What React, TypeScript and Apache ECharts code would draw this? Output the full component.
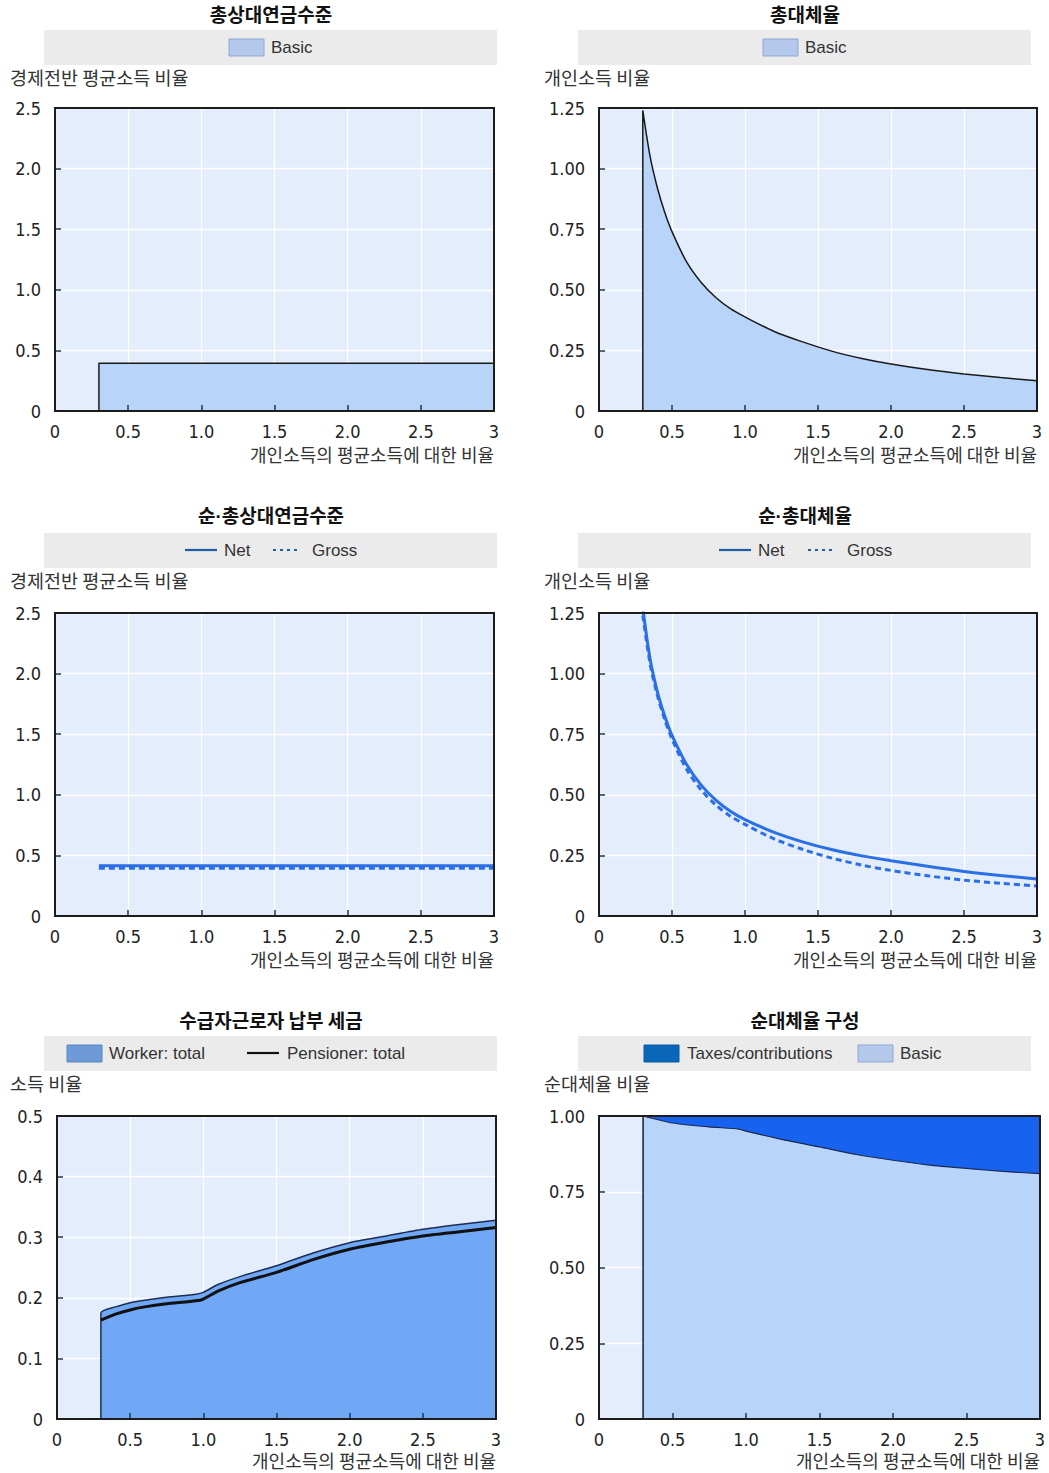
import React, { useEffect, useRef } from "react";
import * as echarts from "echarts";

// ---------- data ----------
const levelX = [0.3, 3.0];
const basicGrossLevel = [0.395, 0.395];
const netLevel = [0.415, 0.415];

const rrX = [0.3, 0.35, 0.4, 0.45, 0.5, 0.6, 0.7, 0.8, 0.9, 1.0, 1.2, 1.4, 1.6, 1.8, 2.0, 2.25, 2.5, 2.75, 3.0];
const grossRR = [1.24, 1.05, 0.92, 0.82, 0.74, 0.615, 0.53, 0.468, 0.422, 0.388, 0.328, 0.284, 0.246, 0.217, 0.194, 0.171, 0.153, 0.138, 0.125];
const grossRRNetPanel = [1.24, 1.04, 0.91, 0.81, 0.73, 0.605, 0.52, 0.458, 0.412, 0.378, 0.318, 0.274, 0.238, 0.21, 0.188, 0.166, 0.148, 0.135, 0.124];
const netRR = [1.27, 1.06, 0.925, 0.825, 0.745, 0.625, 0.54, 0.478, 0.432, 0.398, 0.345, 0.305, 0.273, 0.248, 0.228, 0.205, 0.184, 0.167, 0.153];

const taxX = [0.3, 0.4, 0.5, 0.6, 0.75, 0.95, 1.0, 1.1, 1.25, 1.5, 1.75, 2.0, 2.25, 2.5, 2.75, 3.0];
const workerTax = [0.175, 0.185, 0.192, 0.196, 0.201, 0.206, 0.209, 0.222, 0.235, 0.253, 0.274, 0.291, 0.302, 0.313, 0.321, 0.328];
const pensionerTax = [0.163, 0.173, 0.18, 0.185, 0.19, 0.195, 0.198, 0.211, 0.225, 0.242, 0.263, 0.28, 0.292, 0.302, 0.309, 0.316];

const compX = [0.3, 0.5, 0.75, 0.95, 1.0, 1.25, 1.5, 1.75, 2.0, 2.25, 2.5, 2.75, 3.0];
const basicShare = [1.0, 0.977, 0.964, 0.957, 0.95, 0.922, 0.898, 0.873, 0.854, 0.838, 0.827, 0.817, 0.81];
const taxShare = [0, 0.023, 0.036, 0.043, 0.05, 0.078, 0.102, 0.127, 0.146, 0.162, 0.173, 0.183, 0.19];

const titles = ["총상대연금수준", "총대체율", "순·총상대연금수준", "순·총대체율", "수급자근로자 납부 세금", "순대체율 구성"];
const yNames = ["경제전반 평균소득 비율", "개인소득 비율", "경제전반 평균소득 비율", "개인소득 비율", "소득 비율", "순대체율 비율"];
const xName = "개인소득의 평균소득에 대한 비율";
const yMax = [2.5, 1.25, 2.5, 1.25, 0.5, 1.0];
const yStep = [0.5, 0.25, 0.5, 0.25, 0.1, 0.25];
const yDecimals = [1, 2, 1, 2, 1, 2];

// ---------- layout / style ----------
const grids = [
  { left: 55, top: 108, width: 439, height: 303 },
  { left: 599, top: 108, width: 438, height: 303 },
  { left: 55, top: 613, width: 439, height: 303 },
  { left: 599, top: 613, width: 438, height: 303 },
  { left: 57, top: 1116, width: 439, height: 303 },
  { left: 599, top: 1116, width: 441, height: 303 },
];
const rowTop = [0, 503, 1006];
const colBoxX = [44, 578];
const colCenter = [271, 805];
const colNameX = [10, 544];
const xNamePad = [34, 34, 34, 34, 32, 32];

const KR = "'Noto Sans CJK KR', 'Noto Sans', sans-serif";
const KR_DOT = "'Liberation Sans', 'Noto Sans CJK KR', sans-serif";
const NUM = "'Liberation Sans Narrow', 'DejaVu Sans Condensed', 'Liberation Sans', sans-serif";
const LAT = "'Liberation Sans', Arial, sans-serif";

const plotBg = "#e3edfb";
const basicFill = "#b8d5f9";
const lineBlue = "#2b6fe6";
const legendBlue = "#1f5fa8";

const pts = (xs: number[], ys: number[]) => xs.map((x, i) => [x, ys[i]]);
const fromZero = (xs: number[], ys: number[]) => [[xs[0], 0], ...pts(xs, ys)];

function textEl(x: number, y: number, text: string, font: string, size: number, weight = "normal", align = "left", color = "#333") {
  return { type: "text", x, y, z: 50, style: { text, fill: color, font: `${weight} ${size}px ${font}`, textAlign: align, textVerticalAlign: "middle" } };
}
function swatch(x: number, y: number, fill: string, stroke: string) {
  return { type: "rect", z: 50, shape: { x, y: y - 8, width: 35, height: 17 }, style: { fill, stroke, lineWidth: 1 } };
}
function lineIcon(x1: number, x2: number, y: number, color: string, dash?: number[]) {
  return { type: "line", z: 50, shape: { x1, y1: y, x2, y2: y }, style: { stroke: color, lineWidth: 2.2, lineDash: dash } };
}

export default function App() {
  const ref = useRef<HTMLDivElement>(null);
  useEffect(() => {
    const chart = echarts.init(ref.current!, null, { renderer: "svg" });

    const xAxes: any[] = [];
    const yAxes: any[] = [];
    grids.forEach((_, i) => {
      xAxes.push({
        gridIndex: i, type: "value", min: 0, max: 3, interval: 0.5, z: 5,
        axisLine: { show: false },
        axisTick: { show: true, inside: true, length: 6, lineStyle: { color: "#1f3558", width: 1.5 } },
        splitLine: { show: false },
        axisLabel: {
          margin: 11, color: "#222", fontFamily: NUM, fontSize: 18,
          formatter: (v: number) => (v === 0 ? "0" : v === 3 ? "3" : v.toFixed(1)),
        },
        name: xName, nameLocation: "end", nameGap: 0,
        nameTextStyle: { fontFamily: KR, fontSize: 18, color: "#333", align: "right", verticalAlign: "top", padding: [xNamePad[i], 0, 0, 0] },
      });
      yAxes.push({
        gridIndex: i, type: "value", min: 0, max: yMax[i], interval: yStep[i], z: 5,
        axisLine: { show: false },
        axisTick: { show: true, inside: true, length: 6, lineStyle: { color: "#1f3558", width: 1.5 } },
        splitLine: { show: false },
        axisLabel: {
          margin: 14, color: "#222", fontFamily: NUM, fontSize: 18,
          formatter: (v: number) => (v === 0 ? "0" : v.toFixed(yDecimals[i])),
        },
      });
    });
    grids.forEach((_, i) => {
      xAxes.push({
        gridIndex: i, type: "value", min: 0, max: 3, interval: 0.5, z: 0,
        axisLine: { show: false }, axisTick: { show: false }, axisLabel: { show: false },
        splitLine: { show: true, lineStyle: { color: "#ffffff", width: 1.3 } },
      });
      yAxes.push({
        gridIndex: i, type: "value", min: 0, max: yMax[i], interval: yStep[i], z: 0,
        axisLine: { show: false }, axisTick: { show: false }, axisLabel: { show: false },
        splitLine: { show: true, lineStyle: { color: "#ffffff", width: 1.3 } },
      });
    });

    const compTotal = basicShare.map((b, i) => b + taxShare[i]);

    const base = { type: "line", symbol: "none", showSymbol: false, silent: true };
    const series: any[] = [
      { ...base, name: "Basic", xAxisIndex: 0, yAxisIndex: 0, data: fromZero(levelX, basicGrossLevel),
        lineStyle: { color: "#1a1a1a", width: 1.5 }, areaStyle: { color: basicFill, opacity: 1 } },
      { ...base, name: "Basic", xAxisIndex: 1, yAxisIndex: 1, data: fromZero(rrX, grossRR), smooth: 0.3,
        lineStyle: { color: "#1a1a1a", width: 1.5 }, areaStyle: { color: basicFill, opacity: 1 } },
      { ...base, name: "Gross", xAxisIndex: 2, yAxisIndex: 2, data: pts(levelX, basicGrossLevel),
        lineStyle: { color: lineBlue, width: 3, type: [6, 4] } },
      { ...base, name: "Net", xAxisIndex: 2, yAxisIndex: 2, data: pts(levelX, netLevel),
        lineStyle: { color: lineBlue, width: 3 } },
      { ...base, name: "Gross", xAxisIndex: 3, yAxisIndex: 3, data: pts(rrX, grossRRNetPanel), smooth: 0.3,
        lineStyle: { color: lineBlue, width: 3, type: [6, 4] } },
      { ...base, name: "Net", xAxisIndex: 3, yAxisIndex: 3, data: pts(rrX, netRR), smooth: 0.3,
        lineStyle: { color: lineBlue, width: 3 } },
      { ...base, name: "Worker: total", xAxisIndex: 4, yAxisIndex: 4, data: fromZero(taxX, workerTax), smooth: 0.2,
        lineStyle: { color: "#1b2d55", width: 1.5 }, areaStyle: { color: "#70a8f6", opacity: 1 } },
      { ...base, name: "Pensioner: total", xAxisIndex: 4, yAxisIndex: 4, data: pts(taxX, pensionerTax), smooth: 0.2,
        lineStyle: { color: "#111111", width: 3 } },
      { ...base, name: "Taxes/contributions", xAxisIndex: 5, yAxisIndex: 5, data: fromZero(compX, compTotal),
        lineStyle: { color: "#1a2a50", width: 1 }, areaStyle: { color: "#1763ef", opacity: 1 } },
      { ...base, name: "Basic", xAxisIndex: 5, yAxisIndex: 5, data: fromZero(compX, basicShare), smooth: 0.2,
        lineStyle: { color: "#1a2a50", width: 1.2 }, areaStyle: { color: basicFill, opacity: 1 } },
    ];

    const graphics: any[] = [];
    grids.forEach((g, i) => {
      const col = i % 2;
      const row = Math.floor(i / 2);
      const t = rowTop[row];
      const titleFont = titles[i].includes("·") ? KR_DOT : KR;
      graphics.push(textEl(colCenter[col], t + 13, titles[i], titleFont, 19, "bold", "center", "#111"));
      graphics.push({ type: "rect", z: 1, shape: { x: colBoxX[col], y: t + 30, width: 453, height: 35 }, style: { fill: "#ebebeb" } });
      graphics.push(textEl(colNameX[col], t + 77, yNames[i], KR, 18.5, "normal", "left", "#333"));
      graphics.push({ type: "rect", z: 100, shape: { x: g.left, y: g.top, width: g.width, height: g.height }, style: { fill: "none", stroke: "#1c1c1c", lineWidth: 2 } });
    });
    // legends
    graphics.push(swatch(229, 47, "#b3c8ea", "#8fa7d2"), textEl(271, 47, "Basic", LAT, 17));
    graphics.push(swatch(763, 47, "#b3c8ea", "#8fa7d2"), textEl(805, 47, "Basic", LAT, 17));
    graphics.push(lineIcon(185, 217, 550, legendBlue), textEl(224, 550, "Net", LAT, 17));
    graphics.push(lineIcon(273, 300, 550, legendBlue, [3, 4]), textEl(312, 550, "Gross", LAT, 17));
    graphics.push(lineIcon(719, 751, 550, legendBlue), textEl(758, 550, "Net", LAT, 17));
    graphics.push(lineIcon(808, 835, 550, legendBlue, [3, 4]), textEl(847, 550, "Gross", LAT, 17));
    graphics.push(swatch(67, 1053, "#6e9ad8", "#5a85c4"), textEl(109, 1053, "Worker: total", LAT, 17));
    graphics.push(lineIcon(247, 279, 1053, "#111111"), textEl(287, 1053, "Pensioner: total", LAT, 17));
    graphics.push(swatch(644, 1053, "#0a66b8", "#0a5aa0"), textEl(687, 1053, "Taxes/contributions", LAT, 17));
    graphics.push(swatch(858, 1053, "#b3c8ea", "#8fa7d2"), textEl(900, 1053, "Basic", LAT, 17));

    chart.setOption({
      animation: false,
      backgroundColor: "#ffffff",
      grid: grids.map((g) => ({ ...g, show: true, backgroundColor: plotBg, borderWidth: 0, containLabel: false, outerBoundsMode: "none" })),
      xAxis: xAxes,
      yAxis: yAxes,
      series,
      graphic: graphics,
    });
    return () => chart.dispose();
  }, []);
  return <div ref={ref} style={{ position: "absolute", left: 0, top: 0, width: 1049, height: 1473, background: "#fff" }} />;
}
